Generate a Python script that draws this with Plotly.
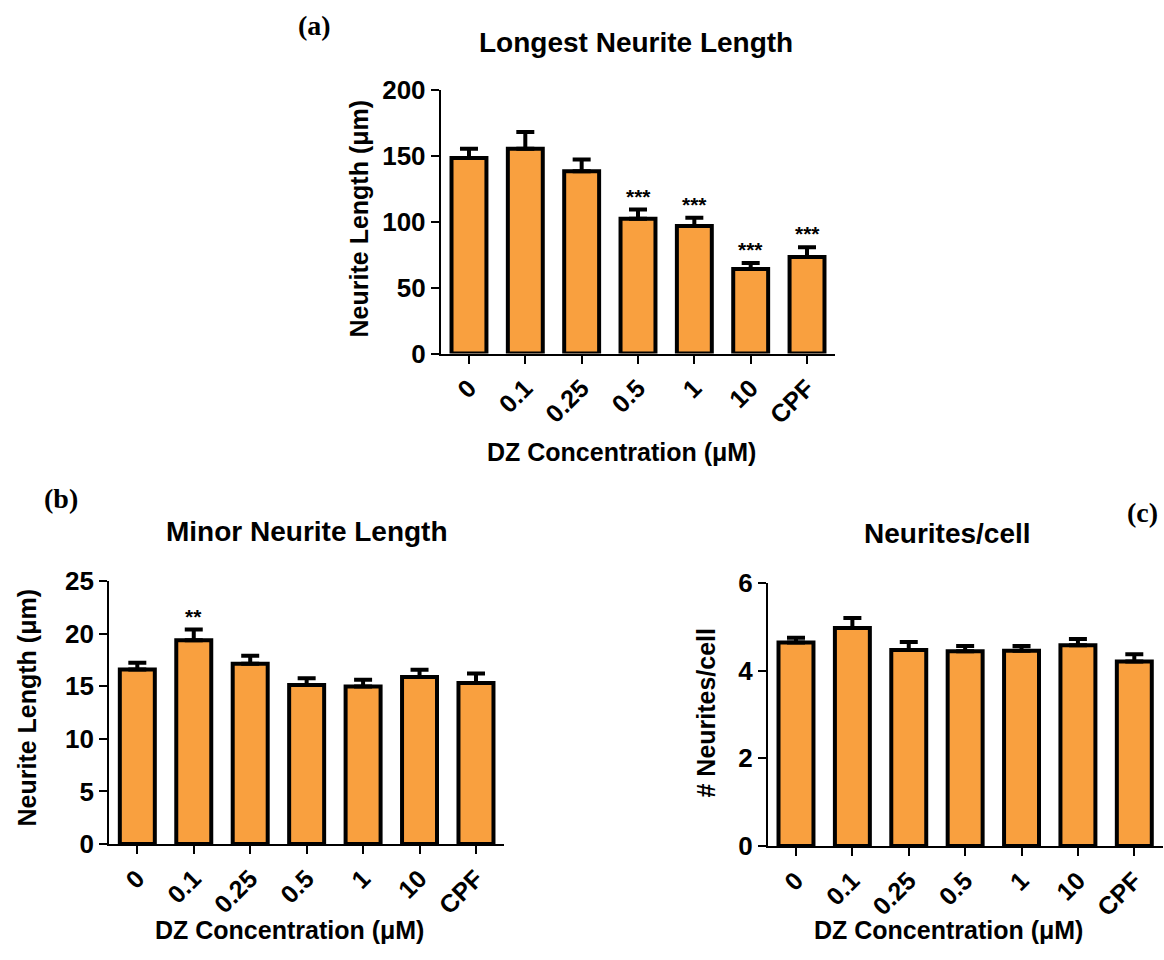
import plotly.graph_objects as go

W, H = 1164, 960

categories = ["0", "0.1", "0.25", "0.5", "1", "10", "CPF"]

longest_mean = [148.6, 155.5, 138.5, 102.5, 97.0, 64.3, 73.4]
longest_sem = [6.9, 12.9, 8.9, 6.9, 6.1, 4.6, 7.4]
longest_sig = ["", "", "", "***", "***", "***", "***"]

minor_mean = [16.58, 19.37, 17.12, 15.12, 14.96, 15.88, 15.31]
minor_sem = [0.63, 1.01, 0.76, 0.64, 0.64, 0.67, 0.89]
minor_sig = ["", "**", "", "", "", "", ""]

cells_mean = [4.64, 4.97, 4.47, 4.44, 4.45, 4.58, 4.21]
cells_sem = [0.11, 0.23, 0.18, 0.12, 0.11, 0.14, 0.16]

BAR_COLOR = "#F9A03F"
FONT = "Liberation Sans"
SERIF = "Liberation Serif"

# vertical compensation for the way the picture is framed
Y_OFF, Y_SCALE = 14.0, 0.969


def px_x(p):
    return p / W


def px_y(p):
    s = (p - Y_OFF) / Y_SCALE
    s = min(max(s, 0.0), H)
    return 1 - s / H


panels = [
    dict(mean=longest_mean, sem=longest_sem, sig=longest_sig, ax="", xd=(440.8, 835.2), yd=(89.3, 352.7),
         rng=[0, 200], dtick=50),
    dict(mean=minor_mean, sem=minor_sem, sig=minor_sig, ax="2", xd=(109.1, 504.2), yd=(580.0, 843.3),
         rng=[0, 25], dtick=5),
    dict(mean=cells_mean, sem=cells_sem, sig=None, ax="3", xd=(767.8, 1162.5), yd=(582.0, 845.3),
         rng=[0, 6], dtick=2),
]

fig = go.Figure()
annotations = []
layout = {}

for p in panels:
    fig.add_trace(go.Bar(
        x=categories, y=p["mean"],
        xaxis="x" + p["ax"], yaxis="y" + p["ax"],
        width=0.62,
        marker=dict(color=BAR_COLOR, line=dict(color="black", width=4)),
        error_y=dict(type="data", array=p["sem"], arrayminus=[0] * len(p["sem"]), symmetric=False,
                     color="black", thickness=4, width=9),
        showlegend=False,
    ))
    xname = "xaxis" + p["ax"]
    yname = "yaxis" + p["ax"]
    layout[xname] = dict(
        type="category", domain=[px_x(p["xd"][0]), px_x(p["xd"][1])],
        anchor="y" + p["ax"], range=[-0.5, 6.5],
        categoryorder="array", categoryarray=categories,
        showline=True, linecolor="black", linewidth=2,
        ticks="outside", ticklen=8, tickwidth=2, tickcolor="black",
        tickangle=-45, tickfont=dict(family=FONT, size=25, color="black", weight="bold"),
        showgrid=False, zeroline=False, fixedrange=True,
    )
    layout[yname] = dict(
        domain=[px_y(p["yd"][1]), px_y(p["yd"][0])],
        anchor="x" + p["ax"], range=p["rng"], dtick=p["dtick"], tick0=0,
        showline=True, linecolor="black", linewidth=2,
        ticks="outside", ticklen=8, tickwidth=2, tickcolor="black",
        tickfont=dict(family=FONT, size=26, color="black", weight="bold"),
        showgrid=False, zeroline=False, fixedrange=True,
    )
    if p["sig"]:
        for i, (m, s, t) in enumerate(zip(p["mean"], p["sem"], p["sig"])):
            if t:
                annotations.append(dict(
                    x=i, y=m + s, xref="x" + p["ax"], yref="y" + p["ax"],
                    text="<b>" + t + "</b>", showarrow=False, yanchor="bottom", yshift=0,
                    font=dict(family=FONT, size=21, color="black"),
                ))


def label(text, x, y, size, family=FONT, angle=0, raw=False):
    yy = (1 - y / H) if raw else px_y(y)
    annotations.append(dict(
        x=px_x(x), y=yy, xref="paper", yref="paper", text="<b>" + text + "</b>",
        showarrow=False, xanchor="center", yanchor="middle", textangle=angle,
        font=dict(family=family, size=size, color="black"),
    ))


# panel letters
label("(a)", 314, 11, 28, SERIF, raw=True)
label("(b)", 61, 497.5, 28, SERIF)
label("(c)", 1142, 512, 28, SERIF)

# titles
label("Longest Neurite Length", 636, 41.7, 28)
label("Minor Neurite Length", 306.7, 531, 28)
label("Neurites/cell", 947.5, 533, 28)

# x titles
label("DZ Concentration (μM)", 621, 451, 25)
label("DZ Concentration (μM)", 289.3, 945, 25, raw=True)
label("DZ Concentration (μM)", 948, 945, 25, raw=True)

# y titles
label("Neurite Length (μm)", 359, 217.5, 25, angle=-90)
label("Neurite Length (μm)", 26.7, 707, 25, angle=-90)
label("# Neurites/cell", 706, 711.7, 25, angle=-90)

fig.update_layout(
    width=W, height=H,
    margin=dict(l=0, r=0, t=0, b=0),
    paper_bgcolor="white", plot_bgcolor="white",
    annotations=annotations,
    showlegend=False,
    **layout,
)

fig.write_html("out.html")
